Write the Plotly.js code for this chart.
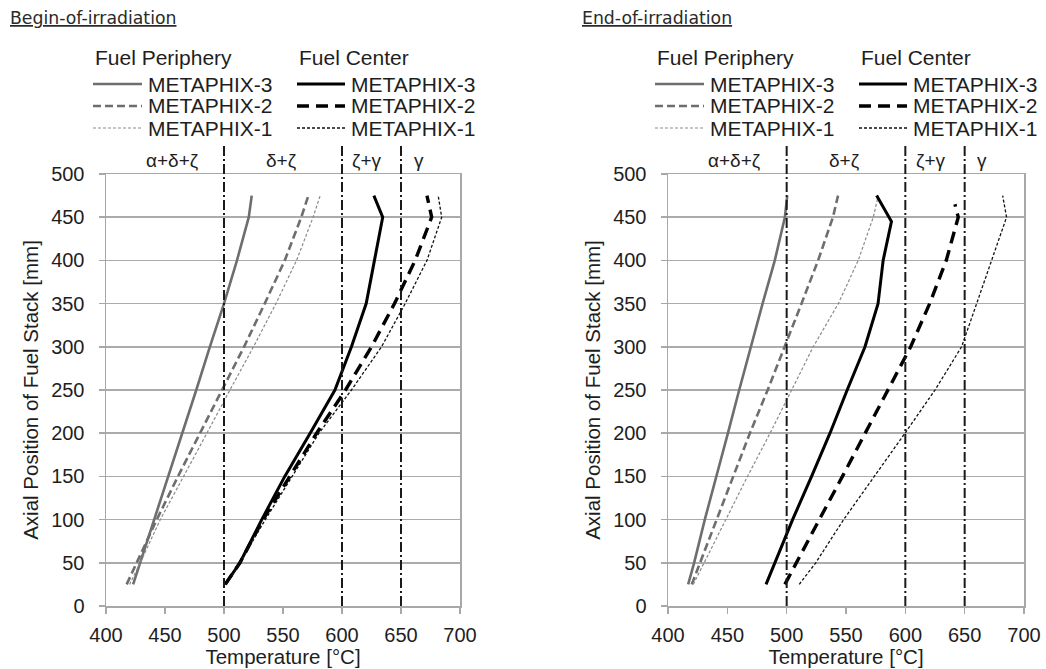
<!DOCTYPE html>
<html><head><meta charset="utf-8">
<script src="https://cdn.plot.ly/plotly-3.0.1.min.js"></script>
<style>html,body{margin:0;padding:0;background:#fff}#chart{width:1046px;height:669px}</style>
</head><body><div id="chart"></div>
<script>
// ---------------- DATA ----------------
const seriesNames = ['METAPHIX-3', 'METAPHIX-2', 'METAPHIX-1'];
const groupTitles = ['Fuel Periphery', 'Fuel Center'];
const panelTitles = ['Begin-of-irradiation', 'End-of-irradiation'];

// axial positions [mm]
const axialPos = [25, 50, 100, 150, 200, 250, 300, 350, 400, 450, 475];
const axialPosEoiCenterM3 = [25, 50, 100, 150, 200, 250, 300, 350, 400, 445, 475];
const axialPosEoiCenterM2 = [25, 50, 100, 150, 200, 250, 300, 350, 400, 450, 465];

// Begin-of-irradiation temperatures [°C]
const boiPeriM3 = [423, 429, 441, 452.5, 464.5, 476.5, 488, 500, 511, 521, 523.5];
const boiPeriM2 = [417.5, 426, 443, 461, 479.5, 498.5, 517, 534.5, 551.5, 565.5, 571.5];
const boiPeriM1 = [420, 429, 446, 466, 485.5, 505, 525, 544, 561.5, 575.5, 581.5];
const boiCenterM3 = [501, 513.5, 532, 551.5, 573, 594, 608, 620.5, 627.5, 634.5, 627];
const boiCenterM2 = [501, 513.5, 533, 556, 578.5, 603, 625, 644.5, 662, 676, 672];
const boiCenterM1 = [502, 513.5, 535, 557.5, 580.5, 608, 633.5, 653.5, 672, 684.5, 681.5];

// End-of-irradiation temperatures [°C]
const eoiPeriM3 = [417, 422, 431, 441, 450.5, 460, 469.7, 479.7, 490, 498.5, 500.5];
const eoiPeriM2 = [420, 427, 440.5, 454.5, 469, 484, 498.4, 512.5, 526.5, 539, 543.3];
const eoiPeriM1 = [421.3, 430.5, 448.5, 467, 486, 504, 522.4, 543.5, 560.3, 573, 577.2];
const eoiCenterM3 = [482.6, 490, 505, 521, 536.5, 551, 566, 577, 581.3, 588.3, 575.8];
const eoiCenterM2 = [498.5, 508, 527.5, 547, 566, 585, 604.5, 620.5, 634.5, 644.6, 641.8];
const eoiCenterM1 = [510.6, 524.5, 548, 574, 599.7, 625, 647.4, 660.1, 672.7, 685.3, 682];

// phase boundaries and phase-field labels
const phaseBoundaries = [500, 600, 650];
const phaseLabels = ['α+δ+ζ', 'δ+ζ', 'ζ+γ', 'γ'];
const phaseLabelTemps = [456, 549, 621, 665];

// ---------------- STYLE / LAYOUT ----------------
const W = 1046, H = 669;
const px = v => v / W;
const py = v => 1 - v / H;
const FONT = 'Liberation Sans, Arial, sans-serif';
const TXT = '#1e1e1e';

const periStyles = [
  {color: '#6e6e6e', width: 2.6, dash: 'solid'},
  {color: '#6e6e6e', width: 2.6, dash: '8px,4px'},
  {color: '#8a8a8a', width: 1.2, dash: '3px,2px'}
];
const centerStyles = [
  {color: '#000000', width: 3, dash: 'solid'},
  {color: '#000000', width: 3.4, dash: '12px,7px'},
  {color: '#111111', width: 1.3, dash: '3px,2px'}
];

const panels = [
  {xa: 'x', ya: 'y', x0: 106, x1: 460, titleX: 8, title: panelTitles[0],
   peri: [[axialPos, boiPeriM3], [axialPos, boiPeriM2], [axialPos, boiPeriM1]],
   center: [[axialPos, boiCenterM3], [axialPos, boiCenterM2], [axialPos, boiCenterM1]]},
  {xa: 'x2', ya: 'y2', x0: 668, x1: 1024, titleX: 580, title: panelTitles[1],
   peri: [[axialPos, eoiPeriM3], [axialPos, eoiPeriM2], [axialPos, eoiPeriM1]],
   center: [[axialPosEoiCenterM3, eoiCenterM3], [axialPosEoiCenterM2, eoiCenterM2], [axialPos, eoiCenterM1]]}
];

const PLOT_TOP = 174, PLOT_BOTTOM = 606, PHASE_TOP = 145;
const traces = [], shapes = [], annotations = [];
const layout = {
  width: W, height: H, margin: {l: 0, r: 0, t: 0, b: 0},
  paper_bgcolor: '#fff', plot_bgcolor: '#fff', showlegend: false, hovermode: false,
  font: {family: FONT, color: TXT}
};

function axisBase() {
  return {
    showline: true, mirror: true, linecolor: '#a8a8a8', linewidth: 1.5,
    ticks: 'outside', ticklen: 6, tickcolor: '#a8a8a8', tickwidth: 1.5,
    zeroline: false, dtick: 50, tick0: 0, fixedrange: true,
    tickfont: {family: FONT, size: 20, color: TXT}
  };
}

panels.forEach((p, i) => {
  const sfx = i === 0 ? '' : '2';
  layout['xaxis' + sfx] = Object.assign(axisBase(), {
    range: [400, 700], domain: [px(p.x0), px(p.x1)], anchor: 'y' + sfx, showgrid: false,
    ticklabelstandoff: 4,
    title: {text: 'Temperature [°C]', font: {family: FONT, size: 20.5, color: TXT}, standoff: 2}
  });
  layout['yaxis' + sfx] = Object.assign(axisBase(), {
    range: [0, 500], domain: [py(PLOT_BOTTOM), py(PLOT_TOP)], anchor: 'x' + sfx,
    showgrid: true, gridcolor: '#ababab', gridwidth: 1.6, ticklabelstandoff: 10,
    title: {text: 'Axial Position of Fuel Stack [mm]', font: {family: FONT, size: 20.5, color: TXT}, standoff: 7}
  });

  // data traces
  p.peri.forEach((d, k) => traces.push({
    type: 'scatter', mode: 'lines', name: seriesNames[k], x: d[1], y: d[0],
    xaxis: p.xa, yaxis: p.ya, line: periStyles[k], showlegend: false
  }));
  p.center.forEach((d, k) => traces.push({
    type: 'scatter', mode: 'lines', name: seriesNames[k], x: d[1], y: d[0],
    xaxis: p.xa, yaxis: p.ya, line: centerStyles[k], showlegend: false
  }));

  // phase boundaries
  phaseBoundaries.forEach(b => shapes.push({
    type: 'line', xref: p.xa, yref: 'paper', x0: b, x1: b, y0: py(PLOT_BOTTOM), y1: py(PHASE_TOP),
    line: {color: '#1a1a1a', width: 2, dash: '10px,3px,2px,3px'}
  }));
  phaseLabels.forEach((lab, k) => annotations.push({
    xref: p.xa, yref: 'paper', x: phaseLabelTemps[k], y: py(160), text: lab,
    showarrow: false, xanchor: 'center', yanchor: 'middle',
    font: {family: FONT, size: 19, color: TXT}
  }));

  // panel title
  annotations.push({
    xref: 'paper', yref: 'paper', x: px(p.titleX), y: py(18), text: '<u>' + p.title + '</u>',
    showarrow: false, xanchor: 'left', yanchor: 'middle',
    font: {family: 'DejaVu Sans, sans-serif', size: 17.3, color: '#2a2a2a'}
  });

  // manual two-column legend
  const cols = [{hdr: -13, l0: -13, l1: 36, txt: 40, styles: periStyles},
                {hdr: 191, l0: 191, l1: 239, txt: 243, styles: centerStyles}];
  const rows = [84, 106, 128];
  cols.forEach((c, ci) => {
    annotations.push({
      xref: 'paper', yref: 'paper', x: px(p.x0 + c.hdr), y: py(57), text: groupTitles[ci],
      showarrow: false, xanchor: 'left', yanchor: 'middle', font: {family: FONT, size: 21, color: TXT}
    });
    rows.forEach((ry, k) => {
      shapes.push({type: 'line', xref: 'paper', yref: 'paper',
        x0: px(p.x0 + c.l0), x1: px(p.x0 + c.l1), y0: py(ry), y1: py(ry), line: c.styles[k]});
      annotations.push({
        xref: 'paper', yref: 'paper', x: px(p.x0 + c.txt), y: py(ry), text: seriesNames[k],
        showarrow: false, xanchor: 'left', yanchor: 'middle', font: {family: FONT, size: 21, color: TXT}
      });
    });
  });
});

layout.shapes = shapes;
layout.annotations = annotations;
Plotly.newPlot('chart', traces, layout, {staticPlot: true, displayModeBar: false});
</script>
</body></html>
